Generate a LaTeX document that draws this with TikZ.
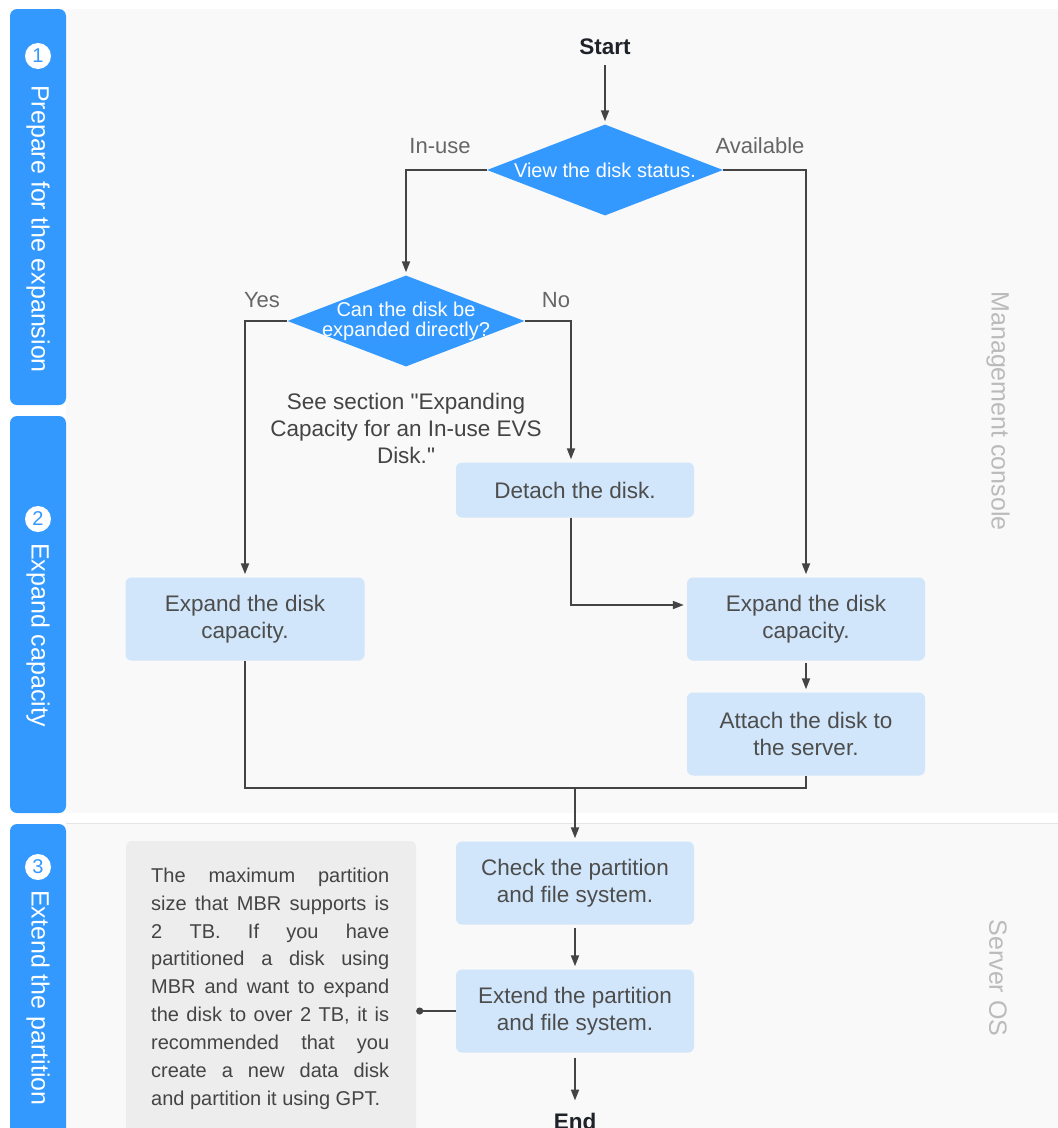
\documentclass[tikz,border=0pt]{standalone}
\usepackage{fontspec}
\setmainfont{Liberation Sans}[Ligatures=TeXOff]
\usetikzlibrary{shapes.geometric,arrows.meta}
\definecolor{barblue}{HTML}{3399FF}
\definecolor{boxblue}{HTML}{D1E6FA}
\definecolor{panelc}{HTML}{F9F9F9}
\definecolor{panelline}{HTML}{E6E6E6}
\definecolor{linec}{HTML}{444444}
\definecolor{boxtxt}{HTML}{4D4D4D}
\definecolor{lblc}{HTML}{666666}
\definecolor{notegray}{HTML}{EDEDED}
\definecolor{sidegray}{HTML}{BBBBBB}
\definecolor{startc}{HTML}{1F2329}
\begin{document}
\begin{tikzpicture}[x=1pt,y=-1pt,
  stepbox/.style={fill=boxblue, rounded corners=6pt, minimum width=238pt, minimum height=83pt, align=center, font=\fontsize{22.5}{27}\selectfont, text=boxtxt, inner sep=0pt},
  decision/.style={diamond, fill=barblue, inner sep=0pt, minimum width=236pt, minimum height=91pt},
  dtext/.style={text=white, align=center, inner sep=0pt, font=\fontsize{20}{20}\selectfont},
  lbl/.style={text=lblc, inner sep=0pt, font=\fontsize{22}{26}\selectfont},
  termtext/.style={text=startc, inner sep=0pt, font=\fontsize{22.5}{27}\selectfont\bfseries},
  numc/.style={circle, fill=white, minimum size=26pt, inner sep=0pt, text=barblue, font=\fontsize{20}{20}\selectfont},
  sidetext/.style={rotate=-90, text=white, inner sep=0pt, font=\fontsize{25}{25}\selectfont},
  sidegraytext/.style={rotate=-90, text=sidegray, inner sep=0pt, font=\fontsize{25}{25}\selectfont},
  notebox/.style={fill=notegray, rounded corners=6pt, minimum width=290pt, minimum height=340pt, inner sep=0pt},
  notetext/.style={text=linec, align=left, inner sep=0pt, font=\fontsize{20}{27.9}\selectfont},
  conn/.style={draw=linec, line width=1.8pt},
  arr/.style={conn, -{Triangle[length=11pt,width=8pt]}, shorten >=3pt}
]
\useasboundingbox (0,0) rectangle (1058,1128);
\clip (0,0) rectangle (1058,1128);
\fill[white] (0,0) rectangle (1058,1128);
% panels
\fill[panelc] (66,9) rectangle (1058,813);
\fill[panelc] (66,823) rectangle (1058,1128);
\draw[panelline, line width=1pt] (66,823.5) -- (1058,823.5);
% stage bars
\fill[barblue, rounded corners=7pt] (10,9) rectangle (66,405);
\fill[barblue, rounded corners=7pt] (10,416) rectangle (66,813);
\fill[barblue, rounded corners=7pt] (10,824) rectangle (66,1160);
\node[numc] (n1) at (38,56) {1};
\node[numc] (n2) at (38,519) {2};
\node[numc] (n3) at (38,867) {3};
\node[sidetext, anchor=west] (s1) at (38,85) {Prepare for the expansion};
\node[sidetext, anchor=west] (s2) at (38,543) {Expand capacity};
\node[sidetext, anchor=west] (s3) at (38,890) {Extend the partition};
% right labels
\node[sidegraytext] (mc) at (998,411) {Management console};
\node[sidegraytext] (sos) at (998,978) {Server OS};
% flow
\node[termtext] (start) at (605,47) {Start};
\node[decision] (d1) at (605,170) {};
\node[dtext] (d1t) at (d1.center) {View the disk status.};
\node[decision, minimum width=237pt] (d2) at (406,321) {};
\node[dtext] (d2t) at (d2.center) {Can the disk be\\expanded directly?};
\node[lbl] (inuse) at (440,146) {In-use};
\node[lbl] (avail) at (760,146) {Available};
\node[lbl] (yes) at (262,300) {Yes};
\node[lbl] (no) at (556,300) {No};
\node[text=linec, align=center, inner sep=0pt, font=\fontsize{22.5}{27}\selectfont] (see) at (406,428) {See section "Expanding\\Capacity for an In-use EVS\\Disk."};
\node[stepbox, minimum height=55pt] (det) at (575,490) {Detach the disk.};
\node[stepbox, minimum width=239pt] (e1) at (245,619) {Expand the disk\\capacity.};
\node[stepbox] (e2) at (806,619) {Expand the disk\\capacity.};
\node[stepbox] (att) at (806,734) {Attach the disk to\\the server.};
\node[stepbox] (chk) at (575,883) {Check the partition\\and file system.};
\node[stepbox] (ext) at (575,1011) {Extend the partition\\and file system.};
\node[termtext] (end) at (575,1121) {End};
\node[notebox] (note) at (271,1011) {};
\node[notetext, anchor=north west] (notet) at (151,867.5) {%
\makebox[238pt][s]{The maximum partition}\\
\makebox[238pt][s]{size that MBR supports is}\\
\makebox[238pt][s]{2 TB. If you have}\\
\makebox[238pt][s]{partitioned a disk using}\\
\makebox[238pt][s]{MBR and want to expand}\\
\makebox[238pt][s]{the disk to over 2 TB, it is}\\
\makebox[238pt][s]{recommended that you}\\
\makebox[238pt][s]{create a new data disk}\\
and partition it using GPT.};
\coordinate (mj) at (575,788);
% connectors
\draw[arr, shorten <=10pt] (start) -- (d1.north);
\draw[arr] (d1.west) -| (d2.north);
\draw[arr] (d1.east) -| (e2.north);
\draw[arr] (d2.west) -| (e1.north);
\draw[arr] (d2.east) -| ([xshift=-4pt]det.north);
\draw[arr] ([xshift=-4pt]det.south) |- ([yshift=14pt]e2.west);
\draw[arr, shorten <=2pt] (e2.south) -- (att.north);
\draw[conn] (e1.south) |- (mj) -| (att.south);
\draw[arr] (mj) -- (chk.north);
\draw[arr, shorten <=3pt] (chk.south) -- (ext.north);
\draw[arr, shorten <=5pt, shorten >=12pt] (ext.south) -- (end);
\draw[conn, {Circle[length=7pt]}-] (note.east) -- (ext.west);
\end{tikzpicture}
\end{document}
